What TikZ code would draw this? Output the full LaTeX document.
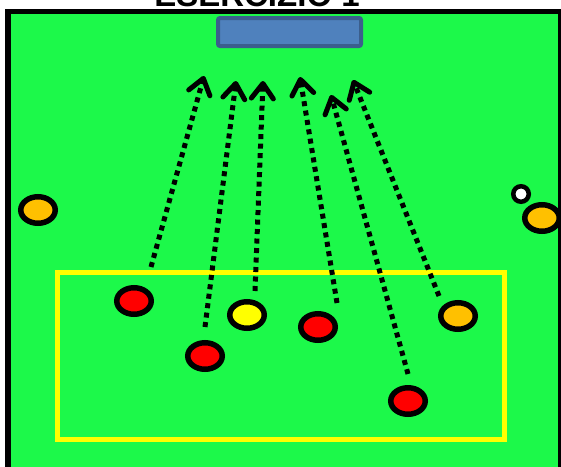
\documentclass[tikz,border=0pt]{standalone}
\usepackage{fontspec}
\setmainfont{Liberation Sans}
\usetikzlibrary{arrows.meta,shapes.geometric}
\definecolor{fieldgreen}{HTML}{1CF94A}
\definecolor{goalfill}{HTML}{4F81BD}
\definecolor{goaledge}{HTML}{3B5E8C}
\definecolor{plorange}{HTML}{FFC000}
\definecolor{plred}{HTML}{FF0000}
\definecolor{plyellow}{HTML}{FFFF00}
\tikzset{
  player/.style={ellipse,draw=black,line width=5.5pt,minimum width=34.5pt,minimum height=26.5pt,inner sep=0pt},
  cone/.style={circle,draw=black,line width=4.5pt,minimum size=15.5pt,inner sep=0pt,fill=white},
  pass/.style={line width=5pt,dash pattern=on 5pt off 4.5pt,
    -{Straight Barb[length=15pt,width=22pt,line width=5pt,round]}},
}
\begin{document}
\begin{tikzpicture}[x=1pt,y=-1pt]
\useasboundingbox (0,0) rectangle (561,466);
\draw[line width=5.5pt,fill=fieldgreen] (8,11.5) rectangle (560.5,472);
\node[anchor=base,font=\bfseries\fontsize{33}{33}\selectfont] (title) at (257,6) {ESERCIZIO 1};
\node[draw=goaledge,fill=goalfill,line width=4pt,rounded corners=2pt,minimum width=143pt,minimum height=28pt,inner sep=0pt] (goal) at (289.5,32) {};
\draw[plyellow,line width=5pt] (57,272) rectangle (504,439);
\node[player,fill=plorange] (lo) at (38,210) {};
\node[cone] (wc) at (521,194) {};
\node[player,fill=plorange] (ro) at (542,218) {};
\node[player,fill=plred] (r1) at (134,301) {};
\node[player,fill=plred] (r2) at (205,356) {};
\node[player,fill=plyellow] (y1) at (247,315) {};
\node[player,fill=plred] (r3) at (318,327) {};
\node[player,fill=plorange] (o2) at (458,316) {};
\node[player,fill=plred] (r4) at (408,401) {};
\coordinate (s1) at (151,267);
\coordinate (e1) at (204,76);
\coordinate (s2) at (205,327);
\coordinate (e2) at (236,81);
\coordinate (s3) at (255,291);
\coordinate (e3) at (263,81);
\coordinate (s4) at (337,303);
\coordinate (e4) at (300,77);
\coordinate (s5) at (408,374);
\coordinate (e5) at (331,95);
\coordinate (s6) at (439,296);
\coordinate (e6) at (353,80);
\draw[pass] (s1) -- (e1);
\draw[pass] (s2) -- (e2);
\draw[pass] (s3) -- (e3);
\draw[pass] (s4) -- (e4);
\draw[pass] (s5) -- (e5);
\draw[pass] (s6) -- (e6);
\end{tikzpicture}
\end{document}
